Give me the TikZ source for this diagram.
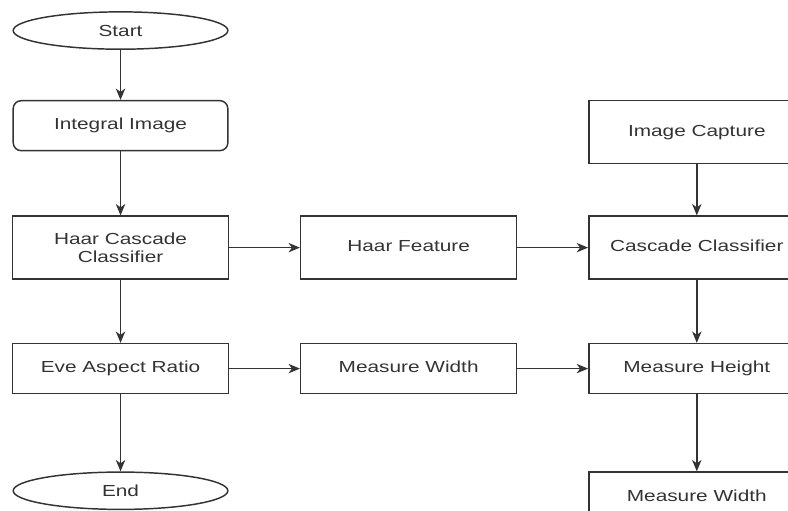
\documentclass[tikz,border=0pt]{standalone}
\usepackage{fontspec}
\setmainfont{Liberation Sans}[FakeStretch=1.3]
\usetikzlibrary{positioning, shapes.geometric, arrows.meta}
\definecolor{linegray}{HTML}{333333}

\begin{document}
\begin{tikzpicture}[
font=\fontsize{12pt}{14pt}\selectfont,
ovalnode/.style={ellipse, draw=linegray, line width=1.1pt, minimum width=161pt, minimum height=28pt, inner sep=0pt, text=linegray},
roundnode/.style={rectangle, rounded corners=6pt, draw=linegray, line width=1.1pt, minimum width=161pt, minimum height=37.5pt, text=linegray, text height=1.6ex, text depth=.4ex},
tallnode/.style={rectangle, draw=linegray, line width=1.1pt, minimum width=162pt, minimum height=47.25pt, align=center, text=linegray, text height=1.6ex, text depth=.4ex},
flatnode/.style={rectangle, draw=linegray, line width=1.1pt, minimum width=162pt, minimum height=37.5pt, text=linegray, text height=1.6ex, text depth=.4ex},
flow/.style={-{Stealth[length=8.5pt, width=7pt, inset=2.5pt]}, draw=linegray, line width=1.1pt},
]
\useasboundingbox (0,0) rectangle (591pt,-382.5pt);
\clip (0,0) rectangle (591pt,-382.5pt);

\node[ovalnode]     (start)      at (90.4pt,-22.9pt)               {Start};
\node[roundnode]    (integral)   [below=37.5pt of start]           {Integral Image};
\node[tallnode, text height={}, text depth={}] (haarcascade) [below=48pt of integral] {Haar Cascade\\Classifier};
\node[flatnode]     (eyeratio)   [below=47.25pt of haarcascade]    {Eve Aspect Ratio};
\node[ovalnode]     (end)        [below=57.75pt of eyeratio]       {End};
\node[tallnode]     (haarfeature) [right=53pt of haarcascade]      {Haar Feature};
\node[tallnode]     (cascade)    [right=53pt of haarfeature]       {Cascade Classifier};
\node[tallnode]     (capture)    [above=38.25pt of cascade]        {Image Capture};
\node[flatnode]     (width)      [right=53pt of eyeratio]          {Measure Width};
\node[flatnode]     (height)     [right=53pt of width]             {Measure Height};
\node[flatnode]     (width2)     [below=57.75pt of height]         {Measure Width};
%Lines
\draw[flow] (start.south) -- (integral.north);
\draw[flow] (integral.south) -- (haarcascade.north);
\draw[flow] (haarcascade.south) -- (eyeratio.north);
\draw[flow] (eyeratio.south) -- (end.north);
\draw[flow] (haarcascade.east) -- (haarfeature.west);
\draw[flow] (haarfeature.east) -- (cascade.west);
\draw[flow] (capture.south) -- (cascade.north);
\draw[flow] (cascade.south) -- (height.north);
\draw[flow] (eyeratio.east) -- (width.west);
\draw[flow] (width.east) -- (height.west);
\draw[flow] (height.south) -- (width2.north);
\end{tikzpicture}
\end{document}
